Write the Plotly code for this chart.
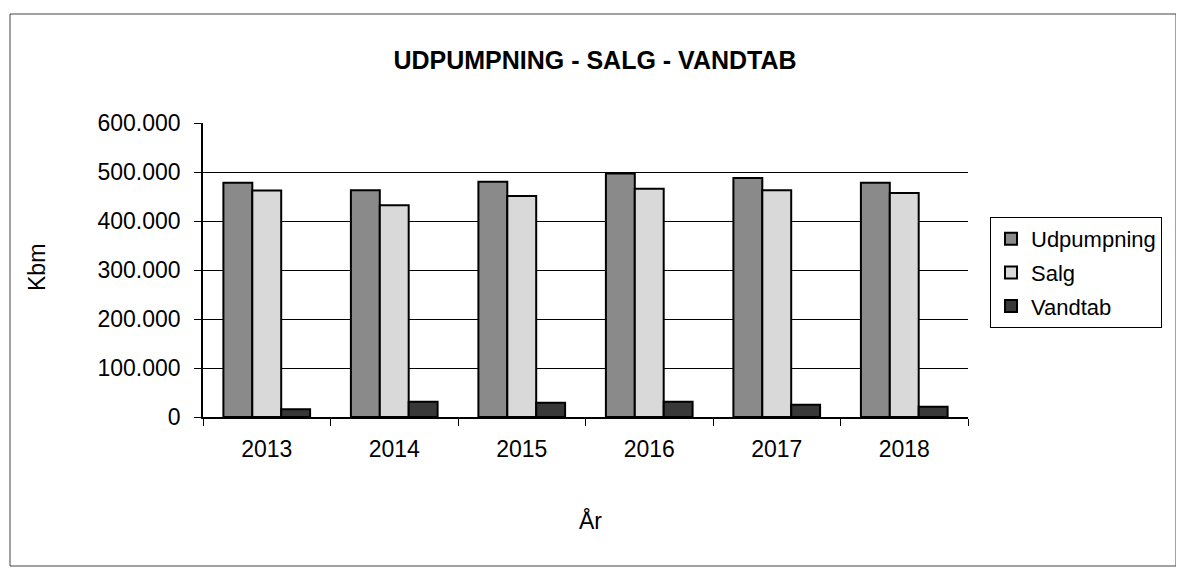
import plotly.graph_objects as go

years = ["2013", "2014", "2015", "2016", "2017", "2018"]
udpumpning = [478000, 463000, 480000, 497000, 488000, 478000]
salg = [462000, 432000, 451000, 466000, 463000, 457000]
vandtab = [16000, 31000, 29000, 31000, 25000, 21000]

y_ticks = [0, 100000, 200000, 300000, 400000, 500000, 600000]
grid_ticks = [100000, 200000, 300000, 400000, 500000]

FONT = "Arial, Liberation Sans, sans-serif"
OFF = 8  # page body margin
W, H = 1184 - OFF, 570 - OFF
L, R, T, B = 203 - OFF, 968 - OFF, 123 - OFF, 417 - OFF

def px2x(px):
    return (px - OFF - L) / (R - L)

def py2y(py):
    return (B - (py - OFF)) / (B - T)

fig = go.Figure()
series = [
    ("Udpumpning", udpumpning, "#8a8a8a"),
    ("Salg", salg, "#d9d9d9"),
    ("Vandtab", vandtab, "#383838"),
]
for name, vals, col in series:
    fig.add_trace(go.Bar(
        x=years, y=vals, name=name, legendgroup=name,
        marker=dict(color=col, line=dict(color="black", width=2)),
    ))

fig.update_layout(
    width=W, height=H,
    margin=dict(l=L, r=W - R, t=T, b=H - B, autoexpand=False),
    paper_bgcolor="white", plot_bgcolor="white",
    separators=",.",
    barmode="group", bargap=0.32, bargroupgap=0,
    font=dict(family=FONT, color="black", size=22),
    title=dict(text="<b>UDPUMPNING - SALG - VANDTAB</b>",
               font=dict(family=FONT, size=25, color="black"),
               x=(595 - OFF) / W, xref="container", xanchor="center",
               y=1 - (60 - OFF) / H, yref="container", yanchor="middle"),
    xaxis=dict(type="category", showline=True, linecolor="black", linewidth=1.5,
               ticks="outside", ticklen=7, tickcolor="black", tickson="boundaries",
               ticklabelstandoff=11, showgrid=False,
               tickfont=dict(size=23, family=FONT)),
    yaxis=dict(range=[0, 600000], tickvals=y_ticks, tickformat=",d",
               showline=True, linecolor="black", linewidth=1.5,
               ticks="outside", ticklen=7, tickcolor="black",
               ticklabelstandoff=9, showgrid=False, zeroline=False,
               tickfont=dict(size=23, family=FONT),
               minor=dict(tickvals=grid_ticks, showgrid=True, gridcolor="black",
                          gridwidth=1.2, ticks="")),
    legend=dict(x=px2x(990), y=py2y(217), xanchor="left", yanchor="top",
                bordercolor="black", borderwidth=1, bgcolor="white",
                font=dict(size=22, family=FONT), tracegroupgap=2,
                itemwidth=30, entrywidth=148, entrywidthmode="pixels"),
    showlegend=True,
)

fig.add_annotation(text="Kbm", xref="paper", yref="paper",
                   x=px2x(37), y=py2y(268), textangle=-90, showarrow=False,
                   xanchor="center", yanchor="middle",
                   font=dict(size=23, family=FONT))
fig.add_annotation(text="År", xref="paper", yref="paper",
                   x=px2x(590), y=py2y(520), showarrow=False,
                   xanchor="center", yanchor="middle",
                   font=dict(size=23, family=FONT))

fig.add_shape(type="rect", xref="paper", yref="paper",
              x0=px2x(10), x1=px2x(1176), y0=py2y(566), y1=py2y(14),
              line=dict(color="#444444", width=1), layer="below")

fig.write_html("out.html")
